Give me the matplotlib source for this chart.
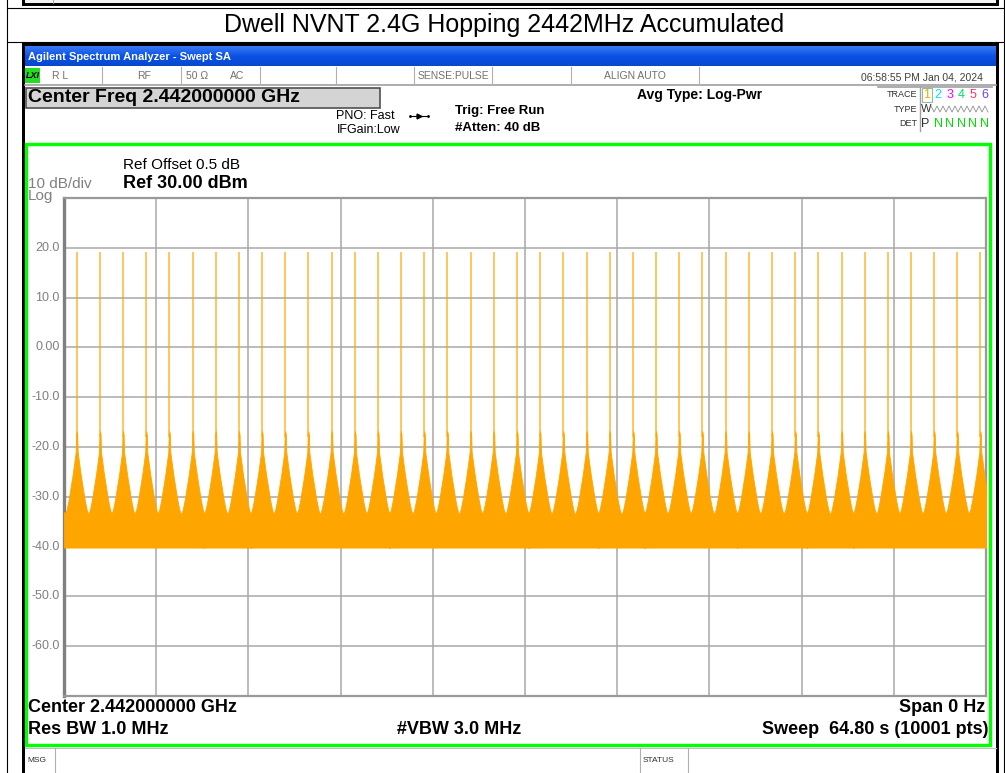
import numpy as np
import matplotlib
matplotlib.use("Agg")
from matplotlib import pyplot as plt
from matplotlib import font_manager
from matplotlib.patches import Rectangle

# fonts: analyzer screens use an Arial-like face
names = {f.name for f in font_manager.fontManager.ttflist}
sans = "Liberation Sans" if "Liberation Sans" in names else "DejaVu Sans"
plt.rcParams['font.family'] = [sans, 'DejaVu Sans']

# ---- data ----
sweep_time = 64.8          # s, span 0 Hz -> time axis
ref_level = 30.0           # dBm
y_ticks = [20, 10, 0, -10, -20, -30, -40, -50, -60]
y_tick_labels = ['20.0', '10.0', '0.00', '-10.0', '-20.0', '-30.0', '-40.0', '-50.0', '-60.0']

# hop bursts seen in the accumulated trace (s)
peak_times = [0.89, 2.53, 4.15, 5.78, 7.40, 9.05, 10.66, 12.30, 13.92, 15.55,
              17.17, 18.81, 20.45, 22.07, 23.68, 25.32, 26.94, 28.58, 30.20, 31.84,
              33.45, 35.09, 36.74, 38.35, 40.01, 41.61, 43.24, 44.86, 46.50, 48.12,
              49.76, 51.40, 53.01, 54.66, 56.27, 57.91, 59.53, 61.16, 62.78, 64.40]
peak_levels = [19.2, 19.2, 19.1, 19.2, 19.2, 19.1, 19.2, 19.2, 19.2, 19.2,
               19.1, 19.2, 19.2, 19.2, 19.1, 19.2, 19.2, 19.1, 19.2, 19.2,
               19.2, 19.2, 19.1, 19.2, 19.2, 19.2, 19.1, 19.2, 19.2, 19.2,
               19.2, 19.1, 19.2, 19.2, 19.2, 19.2, 19.1, 19.2, 19.2, 19.2]

# skirt around each burst: offset from burst centre (s) and upper level (dBm)
skirt_offsets = [-0.81, -0.70, -0.56, -0.42, -0.28, -0.14, -0.07, -0.04, 0.0,
                 0.04, 0.07, 0.14, 0.28, 0.42, 0.56, 0.70, 0.81]
skirt_levels = [-33.5, -32.5, -30.5, -28.0, -25.5, -22.5, -21.0, -17.5, -16.8,
                -17.5, -21.0, -22.5, -25.5, -28.0, -30.5, -32.5, -33.5]
noise_floor = -40.2        # lower edge of the orange band
edge_level = -33.0         # band top at the very start / end of the sweep

# ---- figure ----
fig = plt.figure(figsize=(10.05, 7.73), dpi=100)

# pixel-space layer for the page / instrument frame
scr = fig.add_axes([0, 0, 1, 1], zorder=0)
scr.set_xlim(0, 1005)
scr.set_ylim(773, 0)
scr.axis('off')

def box(x0, y0, x1, y1, fc='white', ec='none', lw=0, z=1):
    scr.add_patch(Rectangle((x0, y0), x1 - x0, y1 - y0, facecolor=fc,
                            edgecolor=ec, linewidth=lw, zorder=z))

def txt(x, y, s, size=9, color='black', weight='normal', ha='left', **kw):
    scr.text(x, y, s, fontsize=size, color=color, fontweight=weight,
             ha=ha, va='center', **kw)

# remnant of the previous screenshot at the very top
box(22, 0, 999, 5.5, fc='black')
box(25, 0, 996, 2.5, fc='#F2F2F2')
scr.plot([53, 53], [0, 2.5], color='#999999', lw=0.6, zorder=2)

# report table lines
scr.plot([7, 7], [0, 773], color='black', lw=0.8)
scr.plot([1003.5, 1003.5], [0, 773], color='black', lw=0.8)
scr.plot([7, 1003.5], [7.5, 7.5], color='black', lw=0.8)
scr.plot([7, 1003.5], [42, 42], color='black', lw=0.8)
txt(504, 25, 'Dwell NVNT 2.4G Hopping 2442MHz Accumulated', size=18, ha='center')

# instrument screenshot frame
box(22, 43, 999, 773, fc='black')
box(25, 66, 996, 773, fc='white')

# window title bar (gradient)
grad = np.linspace(0, 1, 20).reshape(-1, 1)
scr.imshow(grad, extent=(25, 996, 66, 46), aspect='auto', zorder=2,
           cmap=matplotlib.colors.LinearSegmentedColormap.from_list(
               'xp', ['#3A78F2', '#0A52E6', '#0848D0']))
scr.set_xlim(0, 1005)
scr.set_ylim(773, 0)
txt(28, 57, 'Agilent Spectrum Analyzer - Swept SA', size=8, color='white',
    weight='bold', zorder=3)

# status bar
box(25, 67, 996, 84, fc='white', z=2)
scr.plot([25, 996], [84.5, 84.5], color='#A0A0A0', lw=1.2, zorder=3)
box(25, 68, 40, 83, fc='#22DD22', z=3)
txt(26, 75.5, 'LXI', size=6.5, weight='bold', style='italic', zorder=4)
for sx in [102, 181, 260, 336, 414, 492, 571, 699]:
    scr.plot([sx, sx], [67, 84], color='#B0B0B0', lw=0.8, zorder=3)
status_items = [(52, 'R L'), (137, 'RF'), (186, '50 Ω'), (230, 'AC'),
                (418, 'SENSE:PULSE'), (604, 'ALIGN AUTO')]
for sx, s in status_items:
    txt(sx, 76, s, size=7.5, color='#707070', zorder=4)
txt(983, 77, '06:58:55 PM Jan 04, 2024', size=7.5, color='#404040', ha='right', zorder=4)

# settings area
box(25.5, 87.5, 380, 108, fc='#D4D4D4', ec='#505050', lw=1.2, z=3)
txt(28, 98, 'Center Freq 2.442000000 GHz', size=14, weight='bold', zorder=4)
txt(395, 116, 'PNO: Fast', size=9, ha='right', zorder=4)
txt(400, 130, 'IFGain:Low', size=9, ha='right', zorder=4)
scr.plot([410, 428], [116, 116], color='black', lw=0.8, zorder=4)
scr.plot([419], [116], marker='>', ms=3.5, color='black', zorder=4)
scr.plot([410, 428], [116, 116], 'k.', ms=2, zorder=4)
txt(455, 111, 'Trig: Free Run', size=9.5, weight='bold', zorder=4)
txt(455, 128, '#Atten: 40 dB', size=9.5, weight='bold', zorder=4)
txt(637, 95, 'Avg Type: Log-Pwr', size=10, weight='bold', zorder=4)

# trace legend block
scr.plot([878, 992], [86.5, 86.5], color='#A0A0A0', lw=1.2, zorder=3)
scr.plot([919.5, 919.5], [87, 131], color='#A0A0A0', lw=1.0, zorder=3)
txt(917, 94.5, 'TRACE', size=6.5, color='#303030', ha='right', zorder=4)
txt(917, 109, 'TYPE', size=6.5, color='#303030', ha='right', zorder=4)
txt(917, 124, 'DET', size=6.5, color='#303030', ha='right', zorder=4)
box(921.5, 88, 931.5, 102, fc='white', ec='#90C090', lw=0.8, z=3)
trace_colors = ['#FFA500', '#00E0FF', '#FF00FF', '#00E070', '#FF3366', '#7040FF']
for k, c in enumerate(trace_colors):
    txt(926.7 + 11.55 * k, 95.5, str(k + 1), size=9, color=c, ha='center', zorder=4)
txt(921, 109.5, 'W', size=8, color='#303030', zorder=4)
wx = np.array([931, 934, 937, 940, 943, 946, 949, 952, 955, 958, 961, 964, 967, 970, 973, 976, 979, 982, 985, 988])
wy = np.array([106, 112, 106, 112, 106, 112, 106, 112, 106, 112, 106, 112, 106, 112, 106, 112, 106, 112, 106, 112])
scr.plot(wx, wy, color='#909090', lw=0.6, zorder=4)
txt(921, 124, 'P', size=9, color='#303030', zorder=4)
for k in range(5):
    txt(938.3 + 11.55 * k, 124, 'N', size=9, color='#00E000', ha='center', zorder=4)

# green measurement frame
box(25.5, 143.5, 990, 745, fc='white', ec='#00FF00', lw=2.4, z=3)
txt(123, 165, 'Ref Offset 0.5 dB', size=11, zorder=4)
txt(123, 183, 'Ref 30.00 dBm', size=13, weight='bold', zorder=4)
txt(28, 184, '10 dB/div', size=11, color='#808080', zorder=4)
txt(28, 196, 'Log', size=11, color='#808080', zorder=4)

txt(28, 708, 'Center 2.442000000 GHz', size=13, weight='bold', zorder=4)
txt(985, 708, 'Span 0 Hz', size=13, weight='bold', ha='right', zorder=4)
txt(28, 730, 'Res BW 1.0 MHz', size=13, weight='bold', zorder=4)
txt(397, 730, '#VBW 3.0 MHz', size=13, weight='bold', zorder=4)
txt(988, 730, 'Sweep  64.80 s (10001 pts)', size=13, weight='bold', ha='right', zorder=4)

# message row
scr.plot([25, 996], [747.5, 747.5], color='#C0C0C0', lw=0.8, zorder=3)
for sx in [55, 640, 688]:
    scr.plot([sx, sx], [748, 773], color='#B0B0B0', lw=0.8, zorder=3)
txt(27, 760, 'MSG', size=6, color='#303030', zorder=4)
txt(643, 760, 'STATUS', size=6, color='#303030', zorder=4)

# ---- trace area ----
ax = fig.add_axes([64 / 1005, 1 - 696 / 773, 922 / 1005, 498 / 773], zorder=5)
ax.set_facecolor('white')
ax.set_xlim(0, sweep_time)
ax.set_ylim(ref_level - 100, ref_level)
ax.set_xticks(np.linspace(0, sweep_time, 11))
ax.set_yticks(np.arange(ref_level - 100, ref_level + 1, 10))
ax.grid(True, color='#A8A8A8', lw=1.1)
ax.tick_params(length=0, labelbottom=False, labelleft=False)
for side in ['top', 'right', 'bottom']:
    ax.spines[side].set_color('#999999')
    ax.spines[side].set_linewidth(1.6)
ax.spines['left'].set_color('#808080')
ax.spines['left'].set_linewidth(2.4)
for yv, lab in zip(y_ticks, y_tick_labels):
    ax.text(-0.005, yv, lab, transform=ax.get_yaxis_transform(), ha='right',
            va='center', fontsize=9, color='#808080')

# envelope of the accumulated trace built from burst centres + skirt shape
env_t = np.concatenate([[0.0]] + [np.add(t, skirt_offsets) for t in peak_times] + [[sweep_time]])
env_y = np.concatenate([[edge_level]] + [np.array(skirt_levels) for _ in peak_times] + [[edge_level]])
ax.fill_between(env_t, noise_floor, env_y, color='#FFA500', lw=0.6, edgecolor='#FFA500', zorder=3)
ax.vlines(peak_times, -18, peak_levels, color='#FFA500', lw=1.1, alpha=0.8, zorder=3)

fig.savefig('out.png', dpi=100)
